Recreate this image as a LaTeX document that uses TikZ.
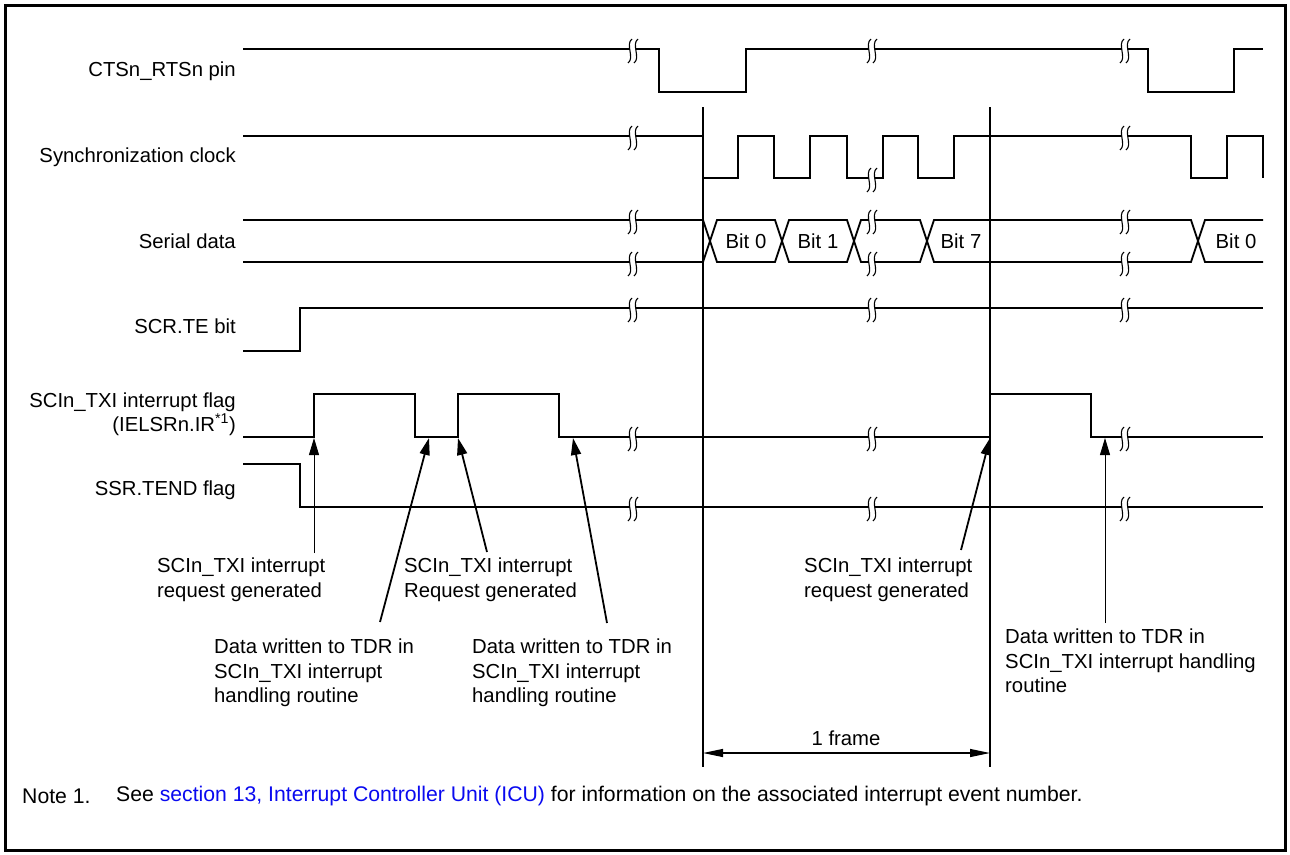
\documentclass[tikz,border=0pt]{standalone}
\usepackage{fontspec}
\setmainfont{Liberation Sans}
\usetikzlibrary{arrows.meta}
\definecolor{linkblue}{RGB}{10,10,240}
\newcommand\brkmark[2]{%
  \fill[white] (#1-1,#2-10) .. controls (#1-8,#2-5) and (#1+2,#2+9) .. (#1-5,#2+14)
     -- (#1+1,#2+14) .. controls (#1+8,#2+9) and (#1-2,#2-5) .. (#1+5,#2-10) -- cycle;
  \draw[line width=1.1pt] (#1-1,#2-10) .. controls (#1-8,#2-5) and (#1+2,#2+9) .. (#1-5,#2+14);
  \draw[line width=1.1pt] (#1+5,#2-10) .. controls (#1-2,#2-5) and (#1+8,#2+9) .. (#1+1,#2+14);
}
\begin{document}
\begin{tikzpicture}[x=1pt,y=-1pt,
  sig/.style={line width=1.8pt, line join=miter},
  lbl/.style={font=\fontsize{20.3}{24.5}\selectfont, inner sep=0pt},
  rowlbl/.style={lbl, anchor=east, align=right},
  note/.style={lbl, anchor=north west, align=left},
  foot/.style={font=\fontsize{21.2}{25}\selectfont, inner sep=0pt, anchor=west},
  thickarr/.style={line width=1.8pt, -{Triangle[length=17pt,width=10pt]}},
  thinarr/.style={line width=0.9pt, -{Triangle[length=17pt,width=10pt]}},
  vline/.style={line width=1.2pt}]
\useasboundingbox (0,0) rectangle (1290,854);
\fill[white] (0,0) rectangle (1290,854);
\draw[line width=3pt] (5.5,5.5) rectangle (1285.5,850.5);

% row labels
\node[rowlbl] (lcts) at (236,71) {CTSn\_RTSn pin};
\node[rowlbl] (lclk) at (236,157) {Synchronization clock};
\node[rowlbl] (ldat) at (236,241) {Serial data};
\node[rowlbl] (lte) at (236,326) {SCR.TE bit};
\node[rowlbl] (lflag) at (236,414) {SCIn\_TXI interrupt flag\\(IELSRn.IR\textsuperscript{*1})};
\node[rowlbl] (ltend) at (236,490) {SSR.TEND flag};

% CTSn_RTSn
\draw[sig] (243,49) -- (659,49) -- (659,92) -- (746,92) -- (746,49) -- (1148,49) -- (1148,92) -- (1234,92) -- (1234,49) -- (1263,49);
\brkmark{633}{49}\brkmark{872}{49}\brkmark{1125}{49}

% clock
\draw[sig] (243,136) -- (703,136) -- (703,178) -- (738,178) -- (738,136) -- (774,136) -- (774,178) -- (810,178) -- (810,136) -- (847,136) -- (847,178) -- (883,178) -- (883,136) -- (918,136) -- (918,178) -- (954,178) -- (954,136) -- (1191,136) -- (1191,178) -- (1227,178) -- (1227,136) -- (1263,136) -- (1263,178);
\brkmark{633}{136}\brkmark{872}{178}\brkmark{1125}{136}

% serial data
\draw[sig] (243,220) -- (703,220) -- (717,262) -- (775,262) -- (789,220) -- (847,220) -- (861,262) -- (920,262) -- (934,220) -- (1191,220) -- (1205,262) -- (1263,262);
\draw[sig] (243,262) -- (703,262) -- (717,220) -- (775,220) -- (789,262) -- (847,262) -- (861,220) -- (920,220) -- (934,262) -- (1191,262) -- (1205,220) -- (1263,220);
\brkmark{633}{220}\brkmark{633}{262}\brkmark{872}{220}\brkmark{872}{262}\brkmark{1125}{220}\brkmark{1125}{262}
\node[lbl] (b0) at (746,241) {Bit 0};
\node[lbl] (b1) at (818,241) {Bit 1};
\node[lbl] (b7) at (961,241) {Bit 7};
\node[lbl] (b0b) at (1236,241) {Bit 0};

% SCR.TE
\draw[sig] (243,351) -- (300,351) -- (300,308) -- (1263,308);
\brkmark{633}{308}\brkmark{872}{308}\brkmark{1125}{308}

% SCIn_TXI flag
\draw[sig] (243,437) -- (314,437) -- (314,394) -- (415,394) -- (415,437) -- (458,437) -- (458,394) -- (559,394) -- (559,437) -- (990,437) -- (990,394) -- (1091,394) -- (1091,437) -- (1263,437);
\brkmark{633}{437}\brkmark{872}{437}\brkmark{1125}{437}

% SSR.TEND
\draw[sig] (243,464) -- (300,464) -- (300,507) -- (1263,507);
\brkmark{633}{507}\brkmark{872}{507}\brkmark{1125}{507}

% frame lines
\coordinate (v1t) at (703,107); \coordinate (v1b) at (703,767);
\coordinate (v2t) at (990,107); \coordinate (v2b) at (990,767);
\draw[vline] (v1t) -- (v1b);
\draw[vline] (v2t) -- (v2b);
\coordinate (fa) at (703,753); \coordinate (fb) at (990,753);
\draw[line width=1.2pt, {Triangle[length=20pt,width=8pt]}-{Triangle[length=20pt,width=8pt]}] (fa) -- (fb);
\node[lbl] (frame) at (846,738) {1 frame};

% annotations
\node[note] (t1) at (157,558) {SCIn\_TXI interrupt\\request generated};
\node[note] (t2) at (404,558) {SCIn\_TXI interrupt\\Request generated};
\node[note] (d1) at (214,639) {Data written to TDR in\\SCIn\_TXI interrupt\\handling routine};
\node[note] (d2) at (472,639) {Data written to TDR in\\SCIn\_TXI interrupt\\handling routine};
\node[note] (t3) at (804,558) {SCIn\_TXI interrupt\\request generated};
\node[note] (d3) at (1005,629) {Data written to TDR in\\SCIn\_TXI interrupt handling\\routine};

\coordinate (p1s) at (314,553); \coordinate (p1e) at (314,438);
\coordinate (p2s) at (380,622); \coordinate (p2e) at (429,438);
\coordinate (p3s) at (487,552); \coordinate (p3e) at (458,438);
\coordinate (p4s) at (607,623); \coordinate (p4e) at (573,438);
\coordinate (p5s) at (961,550); \coordinate (p5e) at (990,438);
\coordinate (p6s) at (1105,623); \coordinate (p6e) at (1105,438);
\draw[thinarr] (p1s) -- (p1e);
\draw[thickarr] (p2s) -- (p2e);
\draw[thickarr] (p3s) -- (p3e);
\draw[thickarr] (p4s) -- (p4e);
\draw[thickarr] (p5s) -- (p5e);
\draw[thinarr] (p6s) -- (p6e);

% footnote
\node[foot] (n1) at (22,796) {Note 1.};
\node[foot] (n2) at (116,796) {See \textcolor{linkblue}{section 13, Interrupt Controller Unit (ICU)} for information on the associated interrupt event number.};
\end{tikzpicture}
\end{document}
